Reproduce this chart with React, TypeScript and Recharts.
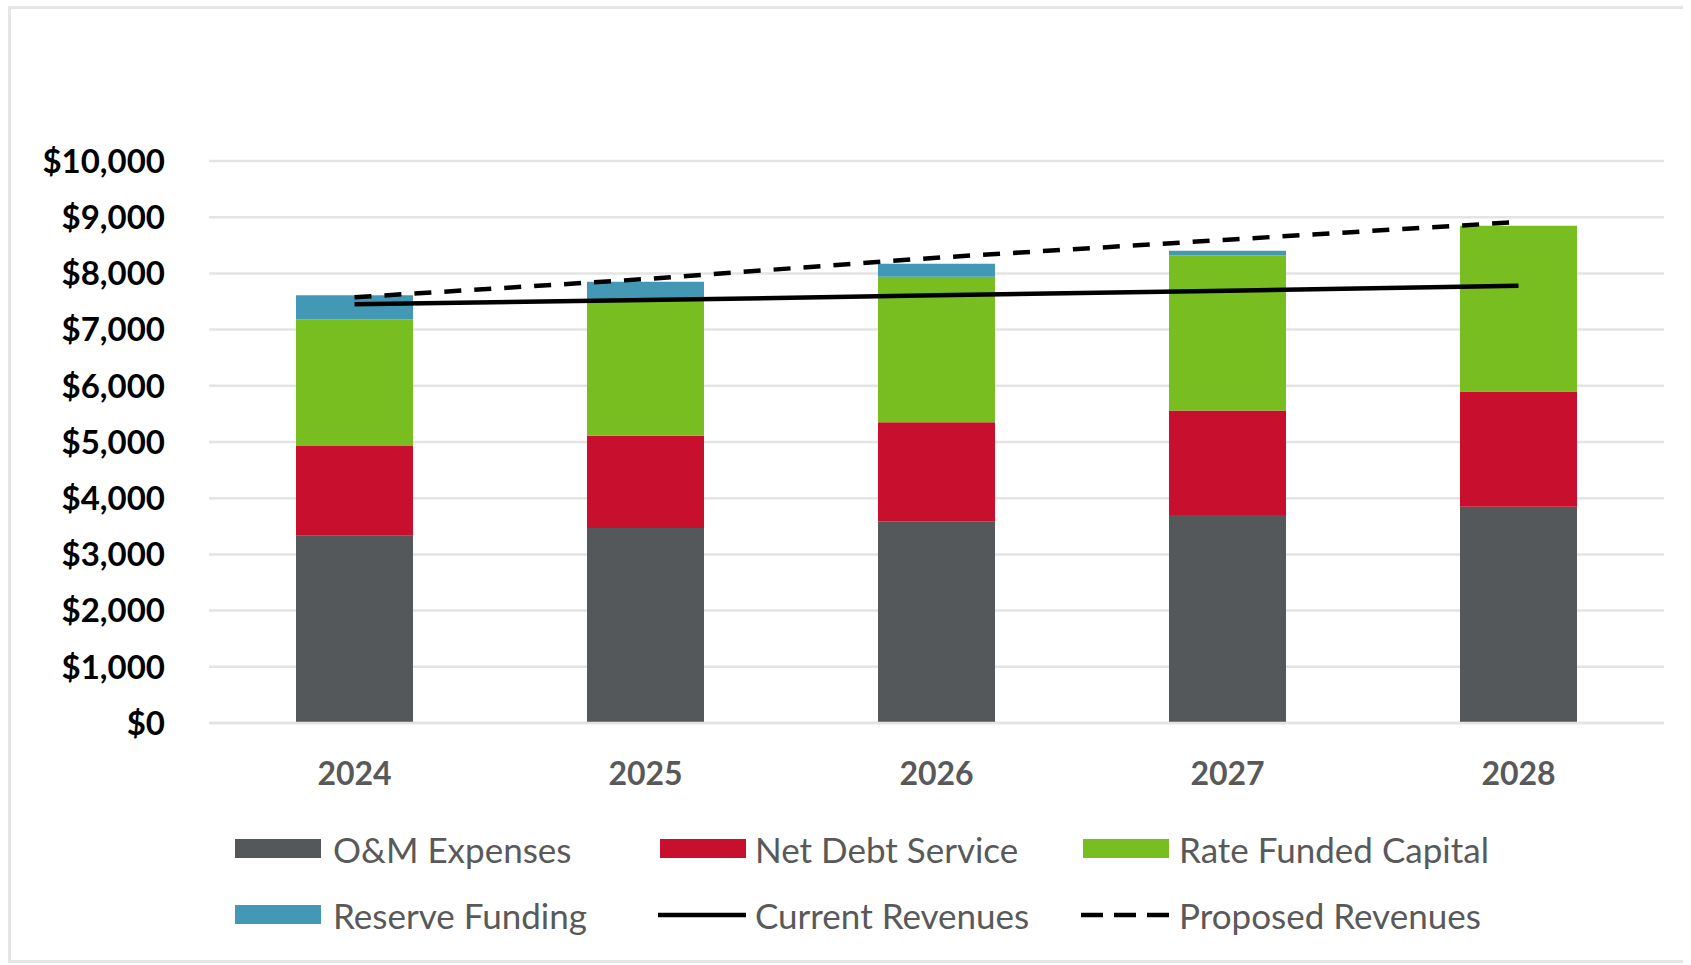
import { ComposedChart, Bar, Line, XAxis, YAxis, CartesianGrid } from "recharts";

const years = ["2024", "2025", "2026", "2027", "2028"];
const omExpenses = [3330, 3470, 3590, 3700, 3850];
const netDebtService = [1600, 1640, 1760, 1860, 2050];
const rateFundedCapital = [2250, 2430, 2590, 2760, 2950];
const reserveFunding = [430, 310, 230, 85, 0];
const currentRevenues = [7450, 7525, 7610, 7690, 7780];
const proposedRevenues = [7575, 7900, 8280, 8600, 8915];
const yTicks = [0, 1000, 2000, 3000, 4000, 5000, 6000, 7000, 8000, 9000, 10000];

const colors = {
  om: "#54585b",
  debt: "#c8102e",
  rfc: "#78be20",
  reserve: "#4399b5",
};

const data = years.map((year, i) => ({
  year,
  om: omExpenses[i],
  debt: netDebtService[i],
  rfc: rateFundedCapital[i],
  reserve: reserveFunding[i],
  current: currentRevenues[i],
  proposed: proposedRevenues[i],
}));

const font = "Lato, 'Open Sans', sans-serif";

type LegendItem = { label: string; kind: "box" | "line" | "dash"; color: string; x: number; textX: number; y: number };

const legendItems: LegendItem[] = [
  { label: "O&M Expenses", kind: "box", color: colors.om, x: 224, textX: 322, y: 840 },
  { label: "Net Debt Service", kind: "box", color: colors.debt, x: 649, textX: 744, y: 840 },
  { label: "Rate Funded Capital", kind: "box", color: colors.rfc, x: 1072, textX: 1168, y: 840 },
  { label: "Reserve Funding", kind: "box", color: colors.reserve, x: 224, textX: 322, y: 906 },
  { label: "Current Revenues", kind: "line", color: "#000", x: 647, textX: 744, y: 906 },
  { label: "Proposed Revenues", kind: "dash", color: "#000", x: 1070, textX: 1168, y: 906 },
];

function Marker({ item }: { item: LegendItem }) {
  if (item.kind === "box") {
    return (
      <div
        style={{
          position: "absolute",
          left: item.x,
          top: item.y - 10,
          width: 86,
          height: 19,
          background: item.color,
        }}
      />
    );
  }
  return (
    <svg style={{ position: "absolute", left: item.x, top: item.y - 4 }} width={90} height={8}>
      <line
        x1={0}
        y1={4}
        x2={88}
        y2={4}
        stroke={item.color}
        strokeWidth={4.5}
        strokeDasharray={item.kind === "dash" ? "22 11" : undefined}
      />
    </svg>
  );
}

export default function App() {
  return (
    <div
      style={{
        position: "absolute",
        left: 8,
        top: 6,
        width: 1672,
        height: 951,
        borderLeft: "3px solid #e5e5e5",
        borderTop: "3px solid #e5e5e5",
        borderBottom: "3px solid #e5e5e5",
        background: "#fff",
        fontFamily: font,
      }}
    >
      <ComposedChart
        width={1672}
        height={951}
        data={data}
        margin={{ top: 152, right: 19, left: 0, bottom: 177 }}
      >
        <CartesianGrid vertical={false} stroke="#e4e4e4" strokeWidth={2.5} />
        <XAxis
          dataKey="year"
          height={60}
          tickLine={false}
          tickSize={0}
          tickMargin={39}
          axisLine={{ stroke: "#e4e4e4", strokeWidth: 2.5 }}
          tick={{ fontSize: 32, fontWeight: 700, fill: "#595959", fontFamily: font }}
        />
        <YAxis
          width={198}
          domain={[0, 10000]}
          ticks={yTicks}
          interval={0}
          axisLine={false}
          tickLine={false}
          tickSize={0}
          tickMargin={44}
          tickFormatter={(v) => `$${Number(v).toLocaleString("en-US")}`}
          tick={{ fontSize: 33, fontWeight: 700, fill: "#000", fontFamily: font }}
        />
        <Bar dataKey="om" stackId="a" fill={colors.om} barSize={117} isAnimationActive={false} />
        <Bar dataKey="debt" stackId="a" fill={colors.debt} barSize={117} isAnimationActive={false} />
        <Bar dataKey="rfc" stackId="a" fill={colors.rfc} barSize={117} isAnimationActive={false} />
        <Bar dataKey="reserve" stackId="a" fill={colors.reserve} barSize={117} isAnimationActive={false} />
        <Line
          dataKey="current"
          stroke="#000"
          strokeWidth={4.5}
          dot={false}
          activeDot={false}
          isAnimationActive={false}
        />
        <Line
          dataKey="proposed"
          stroke="#000"
          strokeWidth={4.5}
          strokeDasharray="17 13"
          dot={false}
          activeDot={false}
          isAnimationActive={false}
        />
      </ComposedChart>
      {legendItems.map((item) => (
        <div key={item.label}>
          <Marker item={item} />
          <div
            style={{
              position: "absolute",
              left: item.textX,
              top: item.y - 21,
              fontSize: 35,
              lineHeight: "42px",
              color: "#595959",
              whiteSpace: "nowrap",
            }}
          >
            {item.label}
          </div>
        </div>
      ))}
    </div>
  );
}
